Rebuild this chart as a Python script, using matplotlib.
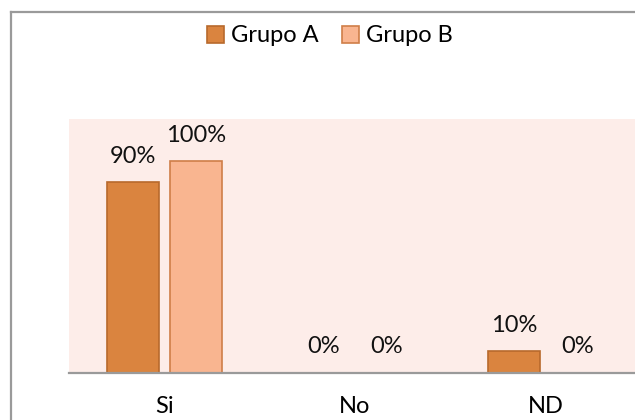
import matplotlib
matplotlib.use("Agg")
import matplotlib.pyplot as plt
import numpy as np
from matplotlib.lines import Line2D

categories = ["Si", "No", "ND"]
grupo_a = [0.90, 0.00, 0.10]
grupo_b = [1.00, 0.00, 0.00]
series_names = ["Grupo A", "Grupo B"]

plt.rcParams['font.family'] = ['Lato', 'DejaVu Sans']

W, H = 635, 420
fig = plt.figure(figsize=(W / 100, H / 100), dpi=100)
fig.patch.set_facecolor("white")

ax = fig.add_axes([69 / W, 47.5 / H, 572 / W, 253.5 / H])
ax.set_facecolor("#FDEDE9")

x = np.arange(len(categories))
bw = 0.27
off = 0.165
col_a, edge_a = "#DA843F", "#B8692C"
col_b, edge_b = "#F9B590", "#CF7E48"

ba = ax.bar(x - off, grupo_a, bw, color=col_a, edgecolor=edge_a, linewidth=1.2, label=series_names[0], zorder=2)
bb = ax.bar(x + off, grupo_b, bw, color=col_b, edgecolor=edge_b, linewidth=1.2, label=series_names[1], zorder=2)

fs = 17
for bars, vals in ((ba, grupo_a), (bb, grupo_b)):
    for r, v in zip(bars, vals):
        ax.annotate(f"{v*100:.0f}%", (r.get_x() + r.get_width() / 2, v),
                    xytext=(0, 11), textcoords="offset points",
                    ha="center", va="bottom", fontsize=fs, color="#111111")

ax.set_xlim(-0.5, 2.5)
ax.set_ylim(0, 1.2)
ax.set_xticks(x)
ax.set_xticklabels(categories, fontsize=fs)
ax.tick_params(axis="x", length=0, pad=17)
ax.set_yticks([])
for s in ("top", "right", "left"):
    ax.spines[s].set_visible(False)
ax.spines["bottom"].set_color("#9A9A9A")
ax.spines["bottom"].set_linewidth(1.6)

leg = fig.legend(loc="center", bbox_to_anchor=(330 / W, 1 - 36 / H), ncol=2, frameon=False,
                 fontsize=fs, handlelength=0.7, handleheight=0.7, handletextpad=0.3,
                 columnspacing=1.0)

# outer chart border (cropped at right/bottom)
fig.add_artist(Line2D([10.5 / W, 10.5 / W], [0, 1 - 12 / H], transform=fig.transFigure,
                      color="#9A9A9A", linewidth=1.6))
fig.add_artist(Line2D([10.5 / W, 1], [1 - 12 / H, 1 - 12 / H], transform=fig.transFigure,
                      color="#9A9A9A", linewidth=1.6))

fig.savefig("out.png", dpi=100)
